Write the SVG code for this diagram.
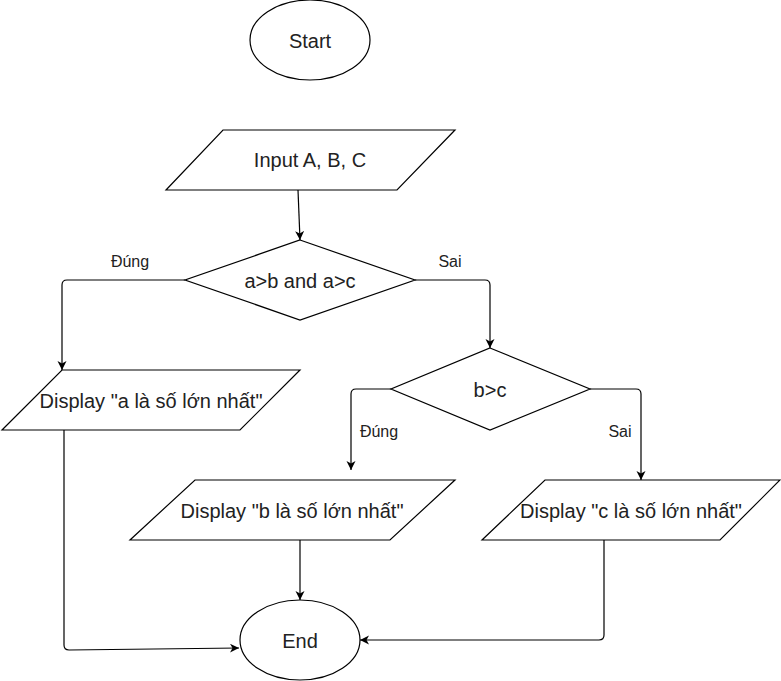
<svg xmlns="http://www.w3.org/2000/svg" width="781" height="681" viewBox="0 0 781 681">
<style>
.shape{fill:#fff;stroke:#000;stroke-width:1.2}
.t{font-family:"Liberation Sans",Arial,sans-serif;font-size:20px;fill:#222;text-anchor:middle;dominant-baseline:central}
.lbl{font-family:"Liberation Sans",Arial,sans-serif;font-size:16px;fill:#222;text-anchor:middle;dominant-baseline:central}
.edge{fill:none;stroke:#000;stroke-width:1.2;marker-end:url(#arr)}
</style>
<defs>
<marker id="arr" markerUnits="userSpaceOnUse" markerWidth="10" markerHeight="10" refX="9" refY="4.5" orient="auto">
<path d="M0,0 L9,4.5 L0,9 L2.5,4.5 z" fill="#000"/>
</marker>
</defs>
<rect width="781" height="681" fill="#fff"/>
<g id="connectors">
<path class="edge" d="M298,190 L300,240"/>
<path class="edge" d="M185,280 H67 Q62,280 62,285 V370"/>
<path class="edge" d="M415,280 H485 Q490,280 490,285 V348"/>
<path class="edge" d="M391,389 H356 Q351,389 351,394 V470"/>
<path class="edge" d="M590,389 H636 Q641,389 641,394 V480"/>
<path class="edge" d="M300,540 V600"/>
<path class="edge" d="M604,540 V635 Q604,640 599,640 H360"/>
<path class="edge" d="M64,430 V645 Q64,650 69,650 L239,648"/>
<text class="lbl" x="130" y="261">Đúng</text>
<text class="lbl" x="450" y="261">Sai</text>
<text class="lbl" x="379" y="431">Đúng</text>
<text class="lbl" x="620" y="431">Sai</text>
</g>
<g id="start">
<ellipse class="shape" cx="310" cy="40" rx="60" ry="40"/>
<text class="t" x="310" y="41">Start</text>
</g>
<g id="input">
<polygon class="shape" points="223,130 455,130 397,190 166,190"/>
<text class="t" x="310" y="160">Input A, B, C</text>
</g>
<g id="cond1">
<polygon class="shape" points="300,240 415,280 300,320 185,280"/>
<text class="t" x="300" y="281">a&gt;b and a&gt;c</text>
</g>
<g id="displayA">
<polygon class="shape" points="62,370 300,370 240,430 2,430"/>
<text class="t" x="151" y="401">Display "a là số lớn nhất"</text>
</g>
<g id="cond2">
<polygon class="shape" points="490,348 590,389 490,430 391,389"/>
<text class="t" x="490" y="390">b&gt;c</text>
</g>
<g id="displayB">
<polygon class="shape" points="195,480 455,480 390,540 130,540"/>
<text class="t" x="292" y="511">Display "b là số lớn nhất"</text>
</g>
<g id="displayC">
<polygon class="shape" points="545,480 780,480 720,540 482,540"/>
<text class="t" x="631" y="511">Display "c là số lớn nhất"</text>
</g>
<g id="end">
<ellipse class="shape" cx="300" cy="640" rx="60" ry="40"/>
<text class="t" x="300" y="641">End</text>
</g>
</svg>
